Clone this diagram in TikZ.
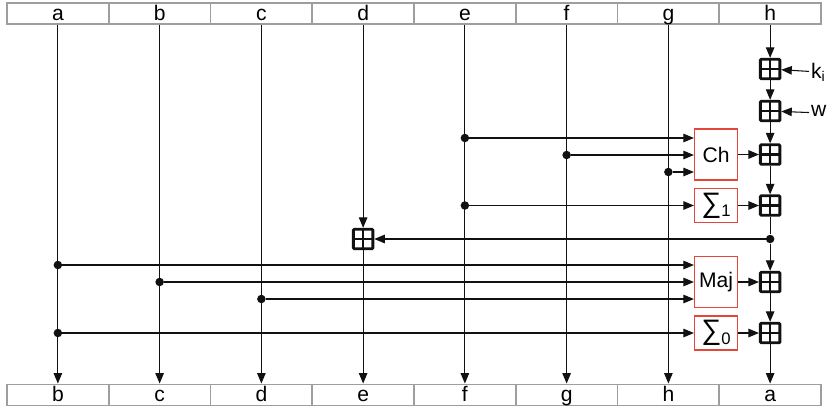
\documentclass[tikz,border=0pt]{standalone}
\usepackage{fontspec}
\setmainfont{Liberation Sans}
\usepackage{xcolor}
\usetikzlibrary{arrows.meta,positioning,calc}
\definecolor{ink}{HTML}{111111}
\definecolor{bargray}{HTML}{9E9E9E}
\definecolor{boxred}{HTML}{E2483A}
\newcommand{\bigsig}[1]{{\fontsize{16}{16}\selectfont ∑}\raisebox{-2.5pt}{\fontsize{9.5}{10}\selectfont #1}}
\tikzset{
  every node/.style={font=\fontsize{12}{14}\selectfont},
  cell/.style={rectangle, draw=bargray, line width=1.1pt, minimum width=2.035cm, minimum height=0.42cm, inner sep=0pt, text height=8.5pt, text depth=1pt},
  fn/.style={rectangle, draw=boxred, line width=0.7pt, minimum width=0.86cm, inner sep=0pt, fill=white},
  adder/.style={rectangle, draw=ink, line width=1.6pt, minimum size=0.39cm, inner sep=0pt, fill=white, rounded corners=0.5pt,
    path picture={\draw[ink, line width=1.4pt] (path picture bounding box.north) -- (path picture bounding box.south)
      (path picture bounding box.west) -- (path picture bounding box.east);}},
  dot/.style={circle, fill=ink, inner sep=0pt, minimum size=0.17cm},
  arrow/.style={-{Triangle[length=2.1mm,width=1.7mm]}, ink, line width=0.6pt},
  wire/.style={ink, line width=0.6pt}
}
\begin{document}
\begin{tikzpicture}[x=0.02cm,y=-0.02cm]
  \useasboundingbox (0,0) rectangle (827,410);
  % registers before and after the round
  \foreach \lbl [count=\i] in {a,b,c,d,e,f,g,h}
    \node[cell] (top\i) at ({7+101.75*(\i-0.5)},13.5) {\lbl};
  \foreach \lbl [count=\i] in {b,c,d,e,f,g,h,a}
    \node[cell] (bot\i) at ({7+101.75*(\i-0.5)},395) {\lbl};

  % plain pass-through columns
  \foreach \i in {1,2,3,5,6,7}
    \draw[arrow] (top\i) -- (bot\i);

  % adders on the h column and on d
  \node[adder] (addK) at (top8 |- 0,69) {};
  \node[adder] (addW) at (top8 |- 0,111) {};
  \node[adder] (addCh) at (top8 |- 0,154.5) {};
  \node[adder] (addSone) at (top8 |- 0,205.5) {};
  \node[dot] (split) at (top8 |- 0,239) {};
  \node[adder] (addMaj) at (top8 |- 0,282) {};
  \node[adder] (addSzero) at (top8 |- 0,333) {};
  \node[adder] (addD) at (top4 |- 0,239) {};

  % round constant and message word
  \node[anchor=west, inner sep=1pt] (ki) at (809,72) {k\textsubscript{i}};
  \node[anchor=west, inner sep=1pt] (wi) at (809,113) {w\textsubscript{i}};

  % function boxes
  \node[fn, minimum height=1.02cm] (ch) at (716,154.5) {Ch};
  \node[fn, minimum height=0.68cm] (sone) at (716,205.5) {\bigsig{1}};
  \node[fn, minimum height=1.02cm] (maj) at (716,282) {Maj};
  \node[fn, minimum height=0.68cm] (szero) at (716,333) {\bigsig{0}};

  % taps on the columns
  \node[dot] (tapE) at (top5 |- 0,138) {};
  \node[dot] (tapF) at (top6 |- 0,155) {};
  \node[dot] (tapG) at (top7 |- 0,172) {};
  \node[dot] (tapEs) at (top5 |- 0,205.5) {};
  \node[dot] (tapA) at (top1 |- 0,265) {};
  \node[dot] (tapB) at (top2 |- 0,282) {};
  \node[dot] (tapC) at (top3 |- 0,299) {};
  \node[dot] (tapAs) at (top1 |- 0,333) {};

  \draw[arrow] (tapE) -- (tapE -| ch.west);
  \draw[arrow] (tapF) -- (tapF -| ch.west);
  \draw[arrow] (tapG) -- (tapG -| ch.west);
  \draw[arrow] (tapEs) -- (sone);
  \draw[arrow] (tapA) -- (tapA -| maj.west);
  \draw[arrow] (tapB) -- (tapB -| maj.west);
  \draw[arrow] (tapC) -- (tapC -| maj.west);
  \draw[arrow] (tapAs) -- (szero);

  % h column chain
  \draw[arrow] (top8) -- (addK);
  \draw[arrow] (addK) -- (addW);
  \draw[arrow] (addW) -- (addCh);
  \draw[arrow] (addCh) -- (addSone);
  \draw[wire] (addSone) -- (split);
  \draw[arrow] (split) -- (addMaj);
  \draw[arrow] (addMaj) -- (addSzero);
  \draw[arrow] (addSzero) -- (bot8);
  \draw[arrow] (split) -- (addD);
  \draw[arrow] (top4) -- (addD);
  \draw[arrow] (addD) -- (bot4);

  \draw[arrow] (ki) -- (addK);
  \draw[arrow] (wi) -- (addW);
  \draw[arrow] (ch) -- (addCh);
  \draw[arrow] (sone) -- (addSone);
  \draw[arrow] (maj) -- (addMaj);
  \draw[arrow] (szero) -- (addSzero);
\end{tikzpicture}
\end{document}
